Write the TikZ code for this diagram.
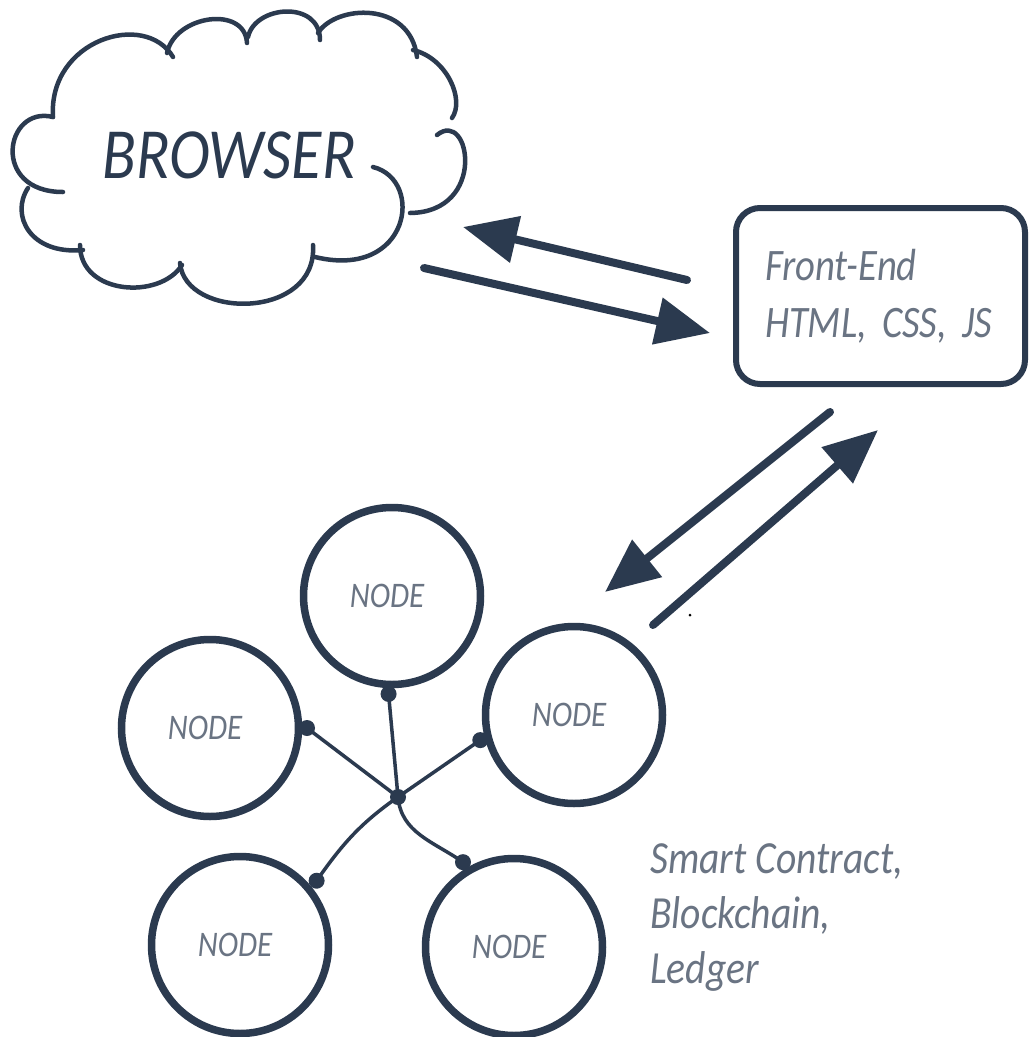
\documentclass[tikz,border=0pt]{standalone}
\usepackage{fontspec}
\newfontfamily\hand[FakeStretch=0.86]{Carlito}
\usetikzlibrary{arrows.meta}
\definecolor{ink}{HTML}{2B3A4F}
\definecolor{txt}{HTML}{6A7483}
\begin{document}
\begin{tikzpicture}[x=1pt,y=1pt,
  cloudline/.style={draw=ink,line width=4.5pt,line cap=round},
  bignode/.style={circle,draw=ink,line width=7.5pt,minimum size=177pt,inner sep=0pt,
    font=\hand\itshape\fontsize{36}{40}\selectfont,text=txt},
  flow/.style={draw=ink,line width=8pt,line cap=round,-{Triangle[length=54pt,width=46pt]}},
  link/.style={draw=ink,line width=3.5pt},
  joint/.style={circle,fill=ink,inner sep=0pt,minimum size=16pt}]
\fill[white] (0,0) rectangle (1029,-1037);
\useasboundingbox (0,0) rectangle (1029,-1037);

% cloud outline
\draw[cloudline] (53,-117) .. controls (48,-40) and (145,-10) .. (173,-57);
\draw[cloudline] (167,-53) .. controls (175,-15) and (245,-5) .. (247,-43);
\draw[cloudline] (248,-37) .. controls (255,-5) and (320,0) .. (320,-40);
\draw[cloudline] (318,-33) .. controls (335,-5) and (410,0) .. (417,-57);
\draw[cloudline] (413,-50) .. controls (447,-58) and (465,-100) .. (452,-118);
\draw[cloudline] (437,-135) .. controls (470,-108) and (488,-212) .. (410,-213);
\draw[cloudline] (373,-167) .. controls (425,-180) and (410,-280) .. (315,-257);
\draw[cloudline] (313,-245) .. controls (318,-320) and (185,-320) .. (180,-263);
\draw[cloudline] (182,-265) .. controls (160,-300) and (80,-295) .. (80,-245);
\draw[cloudline] (83,-250) .. controls (30,-255) and (10,-215) .. (28,-188);
\draw[cloudline] (63,-192) .. controls (-10,-192) and (5,-105) .. (53,-117);
\node[font=\hand\itshape\fontsize{72}{80}\selectfont,text=ink] (browser) at (229,-155) {BROWSER};

% front-end box
\node[draw=ink,line width=6pt,rounded corners=24pt,minimum width=289pt,minimum height=176pt,
  text width=231pt,align=left,inner sep=0pt,text=txt,
  font=\hand\itshape\fontsize{45}{57}\selectfont] (fe) at (880.5,-296) {Front-End\\HTML, CSS, JS};

% arrows
\coordinate (a1s) at (687,-280); \coordinate (a1e) at (463,-227);
\coordinate (a2s) at (424,-268); \coordinate (a2e) at (710,-333);
\coordinate (a3s) at (830,-412); \coordinate (a3e) at (605,-592);
\coordinate (a4s) at (653,-625); \coordinate (a4e) at (878,-430);
\draw[flow] (a1s) -- (a1e);
\draw[flow] (a2s) -- (a2e);
\draw[flow] (a3s) -- (a3e);
\draw[flow] (a4s) -- (a4e);
\fill[black] (690,-615) circle (1.5pt);

% network nodes
\node[bignode] (top) at (392,-596) {\kern-10pt NODE};
\node[bignode] (left) at (210,-728) {\kern-10pt NODE};
\node[bignode] (right) at (574,-715) {\kern-10pt NODE};
\node[bignode] (bl) at (240,-945) {\kern-10pt NODE};
\node[bignode] (br) at (514,-947) {\kern-10pt NODE};

\node[joint] (hub) at (398,-797) {};
\coordinate (dtop) at ([shift={(268:98pt)}]top.center);
\coordinate (dleft) at ([shift={(0:97pt)}]left.center);
\coordinate (dright) at ([shift={(195:97pt)}]right.center);
\coordinate (dbl) at ([shift={(40:100pt)}]bl.center);
\coordinate (dbr) at ([shift={(121:99pt)}]br.center);

\draw[link] (hub.center) -- (dtop);
\draw[link] (hub.center) -- (dleft);
\draw[link] (hub.center) -- (dright);
\draw[link] (hub.center) to[out=215,in=55] (dbl);
\draw[link] (hub.center) to[out=275,in=145] (dbr);
\node[joint] at (dtop) {};
\node[joint] at (dleft) {};
\node[joint] at (dright) {};
\node[joint] at (dbl) {};
\node[joint] at (dbr) {};

\node[font=\hand\itshape\fontsize{46}{55}\selectfont,text=txt,align=left,anchor=west,inner sep=0pt]
  (sc) at (650,-918) {Smart Contract,\\Blockchain,\\Ledger};
\end{tikzpicture}
\end{document}
